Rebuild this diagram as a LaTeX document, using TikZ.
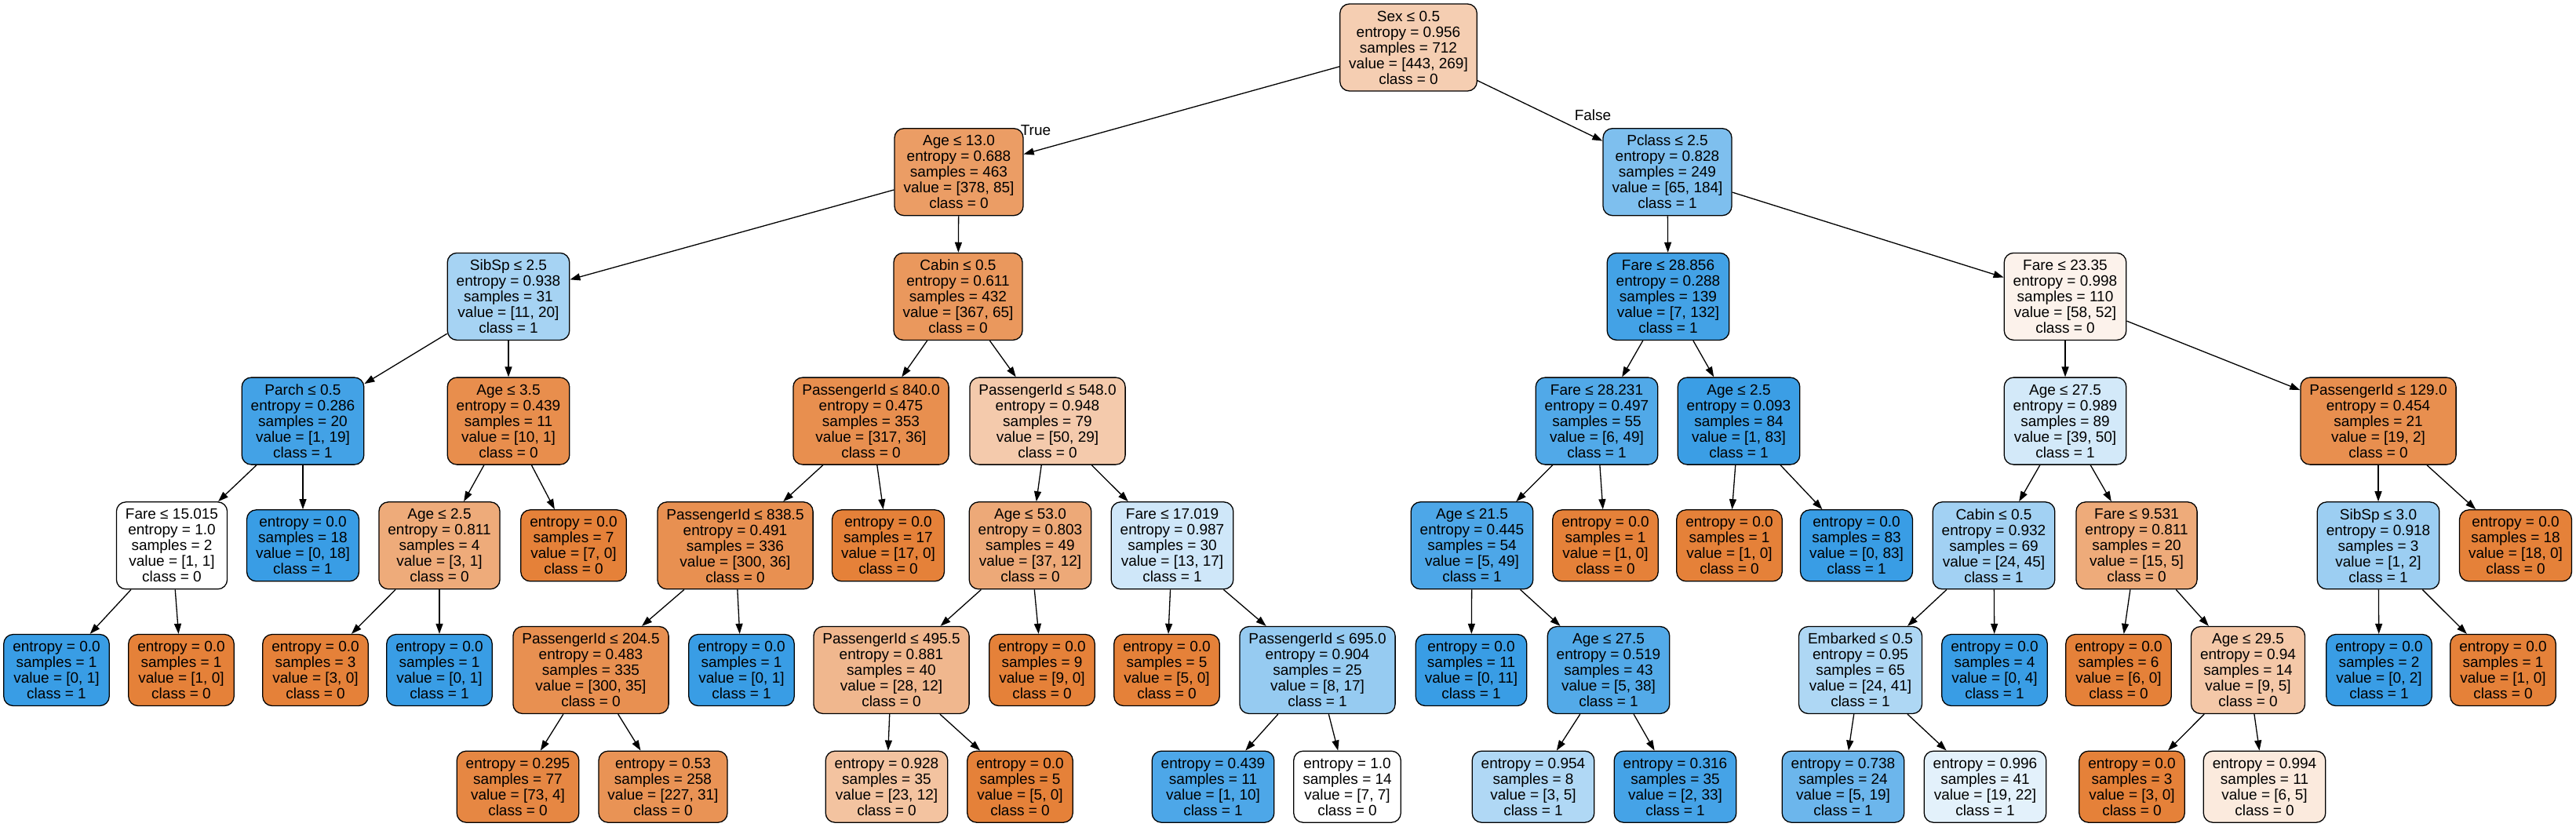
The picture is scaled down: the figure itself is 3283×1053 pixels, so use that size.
\documentclass[tikz,border=0pt]{standalone}
\usepackage{fontspec}
\setmainfont{Liberation Sans}
\usetikzlibrary{arrows.meta}
\definecolor{clsorange}{HTML}{E58139}
\definecolor{clsblue}{HTML}{399DE5}
\tikzstyle{dtnode}=[draw, line width=1.3bp, rounded corners=12bp, align=center, inner xsep=11.5bp, minimum height=111bp, font=\fontsize{19bp}{20bp}\selectfont]
\tikzstyle{dtleaf}=[dtnode, minimum height=91bp]
\tikzstyle{edge}=[line width=1.3bp, -{Triangle[length=13bp, width=9bp]}]
\tikzstyle{edgelabel}=[font=\fontsize{19bp}{20bp}\selectfont]
\begin{document}
\begin{tikzpicture}[x=1bp, y=-1bp]
  \useasboundingbox (0,0) rectangle (3283,1053);

  \node[dtnode, fill=clsorange!39] (N0) at (1795,60.5) {Sex ≤ 0.5\\entropy = 0.956\\samples = 712\\value = [443, 269]\\class = 0};

  \node[dtnode, fill=clsorange!78] (N1) at (1222,219.2) {Age ≤ 13.0\\entropy = 0.688\\samples = 463\\value = [378, 85]\\class = 0};
  \node[dtnode, fill=clsblue!65] (N32) at (2125,219.2) {Pclass ≤ 2.5\\entropy = 0.828\\samples = 249\\value = [65, 184]\\class = 1};

  \node[dtnode, fill=clsblue!45] (N2) at (648,377.9) {SibSp ≤ 2.5\\entropy = 0.938\\samples = 31\\value = [11, 20]\\class = 1};
  \node[dtnode, fill=clsorange!82] (N13) at (1221,377.9) {Cabin ≤ 0.5\\entropy = 0.611\\samples = 432\\value = [367, 65]\\class = 0};
  \node[dtnode, fill=clsblue!95] (N33) at (2126,377.9) {Fare ≤ 28.856\\entropy = 0.288\\samples = 139\\value = [7, 132]\\class = 1};
  \node[dtnode, fill=clsorange!10] (N44) at (2632,377.9) {Fare ≤ 23.35\\entropy = 0.998\\samples = 110\\value = [58, 52]\\class = 0};

  \node[dtnode, fill=clsblue!95] (N3) at (386,536.6) {Parch ≤ 0.5\\entropy = 0.286\\samples = 20\\value = [1, 19]\\class = 1};
  \node[dtnode, fill=clsorange!90] (N8) at (648,536.6) {Age ≤ 3.5\\entropy = 0.439\\samples = 11\\value = [10, 1]\\class = 0};
  \node[dtnode, fill=clsorange!89] (N14) at (1110,536.6) {PassengerId ≤ 840.0\\entropy = 0.475\\samples = 353\\value = [317, 36]\\class = 0};
  \node[dtnode, fill=clsorange!42] (N21) at (1335,536.6) {PassengerId ≤ 548.0\\entropy = 0.948\\samples = 79\\value = [50, 29]\\class = 0};
  \node[dtnode, fill=clsblue!88] (N34) at (2035,536.6) {Fare ≤ 28.231\\entropy = 0.497\\samples = 55\\value = [6, 49]\\class = 1};
  \node[dtnode, fill=clsblue!99] (N41) at (2216,536.6) {Age ≤ 2.5\\entropy = 0.093\\samples = 84\\value = [1, 83]\\class = 1};
  \node[dtnode, fill=clsblue!22] (N45) at (2632,536.6) {Age ≤ 27.5\\entropy = 0.989\\samples = 89\\value = [39, 50]\\class = 1};
  \node[dtnode, fill=clsorange!89] (N56) at (3031,536.6) {PassengerId ≤ 129.0\\entropy = 0.454\\samples = 21\\value = [19, 2]\\class = 0};

  \node[dtnode, fill=white] (N4) at (219,695.3) {Fare ≤ 15.015\\entropy = 1.0\\samples = 2\\value = [1, 1]\\class = 0};
  \node[dtleaf, fill=clsblue] (N7) at (386,695.3) {entropy = 0.0\\samples = 18\\value = [0, 18]\\class = 1};
  \node[dtnode, fill=clsorange!67] (N9) at (560,695.3) {Age ≤ 2.5\\entropy = 0.811\\samples = 4\\value = [3, 1]\\class = 0};
  \node[dtleaf, fill=clsorange] (N12) at (731,695.3) {entropy = 0.0\\samples = 7\\value = [7, 0]\\class = 0};
  \node[dtnode, fill=clsorange!88] (N15) at (937,695.3) {PassengerId ≤ 838.5\\entropy = 0.491\\samples = 336\\value = [300, 36]\\class = 0};
  \node[dtleaf, fill=clsorange] (N20) at (1132,695.3) {entropy = 0.0\\samples = 17\\value = [17, 0]\\class = 0};
  \node[dtnode, fill=clsorange!68] (N22) at (1313,695.3) {Age ≤ 53.0\\entropy = 0.803\\samples = 49\\value = [37, 12]\\class = 0};
  \node[dtnode, fill=clsblue!24] (N27) at (1494,695.3) {Fare ≤ 17.019\\entropy = 0.987\\samples = 30\\value = [13, 17]\\class = 1};
  \node[dtnode, fill=clsblue!90] (N35) at (1876,695.3) {Age ≤ 21.5\\entropy = 0.445\\samples = 54\\value = [5, 49]\\class = 1};
  \node[dtleaf, fill=clsorange] (N40) at (2046,695.3) {entropy = 0.0\\samples = 1\\value = [1, 0]\\class = 0};
  \node[dtleaf, fill=clsorange] (N42) at (2204,695.3) {entropy = 0.0\\samples = 1\\value = [1, 0]\\class = 0};
  \node[dtleaf, fill=clsblue] (N43) at (2366,695.3) {entropy = 0.0\\samples = 83\\value = [0, 83]\\class = 1};
  \node[dtnode, fill=clsblue!47] (N46) at (2541,695.3) {Cabin ≤ 0.5\\entropy = 0.932\\samples = 69\\value = [24, 45]\\class = 1};
  \node[dtnode, fill=clsorange!67] (N51) at (2723,695.3) {Fare ≤ 9.531\\entropy = 0.811\\samples = 20\\value = [15, 5]\\class = 0};
  \node[dtnode, fill=clsblue!50] (N57) at (3031,695.3) {SibSp ≤ 3.0\\entropy = 0.918\\samples = 3\\value = [1, 2]\\class = 1};
  \node[dtleaf, fill=clsorange] (N60) at (3206,695.3) {entropy = 0.0\\samples = 18\\value = [18, 0]\\class = 0};

  \node[dtleaf, fill=clsblue] (N5) at (72,854) {entropy = 0.0\\samples = 1\\value = [0, 1]\\class = 1};
  \node[dtleaf, fill=clsorange] (N6) at (231,854) {entropy = 0.0\\samples = 1\\value = [1, 0]\\class = 0};
  \node[dtleaf, fill=clsorange] (N10) at (402,854) {entropy = 0.0\\samples = 3\\value = [3, 0]\\class = 0};
  \node[dtleaf, fill=clsblue] (N11) at (560,854) {entropy = 0.0\\samples = 1\\value = [0, 1]\\class = 1};
  \node[dtnode, fill=clsorange!88] (N16) at (753,854) {PassengerId ≤ 204.5\\entropy = 0.483\\samples = 335\\value = [300, 35]\\class = 0};
  \node[dtleaf, fill=clsblue] (N19) at (945,854) {entropy = 0.0\\samples = 1\\value = [0, 1]\\class = 1};
  \node[dtnode, fill=clsorange!57] (N23) at (1136,854) {PassengerId ≤ 495.5\\entropy = 0.881\\samples = 40\\value = [28, 12]\\class = 0};
  \node[dtleaf, fill=clsorange] (N26) at (1328,854) {entropy = 0.0\\samples = 9\\value = [9, 0]\\class = 0};
  \node[dtleaf, fill=clsorange] (N28) at (1487,854) {entropy = 0.0\\samples = 5\\value = [5, 0]\\class = 0};
  \node[dtnode, fill=clsblue!53] (N29) at (1679,854) {PassengerId ≤ 695.0\\entropy = 0.904\\samples = 25\\value = [8, 17]\\class = 1};
  \node[dtleaf, fill=clsblue] (N36) at (1875,854) {entropy = 0.0\\samples = 11\\value = [0, 11]\\class = 1};
  \node[dtnode, fill=clsblue!87] (N37) at (2050,854) {Age ≤ 27.5\\entropy = 0.519\\samples = 43\\value = [5, 38]\\class = 1};
  \node[dtnode, fill=clsblue!41] (N47) at (2371,854) {Embarked ≤ 0.5\\entropy = 0.95\\samples = 65\\value = [24, 41]\\class = 1};
  \node[dtleaf, fill=clsblue] (N50) at (2542,854) {entropy = 0.0\\samples = 4\\value = [0, 4]\\class = 1};
  \node[dtleaf, fill=clsorange] (N52) at (2700,854) {entropy = 0.0\\samples = 6\\value = [6, 0]\\class = 0};
  \node[dtnode, fill=clsorange!44] (N53) at (2865,854) {Age ≤ 29.5\\entropy = 0.94\\samples = 14\\value = [9, 5]\\class = 0};
  \node[dtleaf, fill=clsblue] (N58) at (3032,854) {entropy = 0.0\\samples = 2\\value = [0, 2]\\class = 1};
  \node[dtleaf, fill=clsorange] (N59) at (3190,854) {entropy = 0.0\\samples = 1\\value = [1, 0]\\class = 0};

  \node[dtleaf, fill=clsorange!95] (N17) at (660,1002.7) {entropy = 0.295\\samples = 77\\value = [73, 4]\\class = 0};
  \node[dtleaf, fill=clsorange!86] (N18) at (845,1002.7) {entropy = 0.53\\samples = 258\\value = [227, 31]\\class = 0};
  \node[dtleaf, fill=clsorange!48] (N24) at (1130,1002.7) {entropy = 0.928\\samples = 35\\value = [23, 12]\\class = 0};
  \node[dtleaf, fill=clsorange] (N25) at (1300,1002.7) {entropy = 0.0\\samples = 5\\value = [5, 0]\\class = 0};
  \node[dtleaf, fill=clsblue!90] (N30) at (1546,1002.7) {entropy = 0.439\\samples = 11\\value = [1, 10]\\class = 1};
  \node[dtleaf, fill=white] (N31) at (1717,1002.7) {entropy = 1.0\\samples = 14\\value = [7, 7]\\class = 0};
  \node[dtleaf, fill=clsblue!40] (N38) at (1954,1002.7) {entropy = 0.954\\samples = 8\\value = [3, 5]\\class = 1};
  \node[dtleaf, fill=clsblue!94] (N39) at (2135,1002.7) {entropy = 0.316\\samples = 35\\value = [2, 33]\\class = 1};
  \node[dtleaf, fill=clsblue!74] (N48) at (2349,1002.7) {entropy = 0.738\\samples = 24\\value = [5, 19]\\class = 1};
  \node[dtleaf, fill=clsblue!14] (N49) at (2530,1002.7) {entropy = 0.996\\samples = 41\\value = [19, 22]\\class = 1};
  \node[dtleaf, fill=clsorange] (N54) at (2717,1002.7) {entropy = 0.0\\samples = 3\\value = [3, 0]\\class = 0};
  \node[dtleaf, fill=clsorange!17] (N55) at (2886,1002.7) {entropy = 0.994\\samples = 11\\value = [6, 5]\\class = 0};

  \draw[edge] (N0) -- (N1);
  \draw[edge] (N0) -- (N32);
  \draw[edge] (N1) -- (N2);
  \draw[edge] (N1) -- (N13);
  \draw[edge] (N2) -- (N3);
  \draw[edge] (N2) -- (N8);
  \draw[edge] (N3) -- (N4);
  \draw[edge] (N3) -- (N7);
  \draw[edge] (N4) -- (N5);
  \draw[edge] (N4) -- (N6);
  \draw[edge] (N8) -- (N9);
  \draw[edge] (N8) -- (N12);
  \draw[edge] (N9) -- (N10);
  \draw[edge] (N9) -- (N11);
  \draw[edge] (N13) -- (N14);
  \draw[edge] (N13) -- (N21);
  \draw[edge] (N14) -- (N15);
  \draw[edge] (N14) -- (N20);
  \draw[edge] (N15) -- (N16);
  \draw[edge] (N15) -- (N19);
  \draw[edge] (N16) -- (N17);
  \draw[edge] (N16) -- (N18);
  \draw[edge] (N21) -- (N22);
  \draw[edge] (N21) -- (N27);
  \draw[edge] (N22) -- (N23);
  \draw[edge] (N22) -- (N26);
  \draw[edge] (N23) -- (N24);
  \draw[edge] (N23) -- (N25);
  \draw[edge] (N27) -- (N28);
  \draw[edge] (N27) -- (N29);
  \draw[edge] (N29) -- (N30);
  \draw[edge] (N29) -- (N31);
  \draw[edge] (N32) -- (N33);
  \draw[edge] (N32) -- (N44);
  \draw[edge] (N33) -- (N34);
  \draw[edge] (N33) -- (N41);
  \draw[edge] (N34) -- (N35);
  \draw[edge] (N34) -- (N40);
  \draw[edge] (N35) -- (N36);
  \draw[edge] (N35) -- (N37);
  \draw[edge] (N37) -- (N38);
  \draw[edge] (N37) -- (N39);
  \draw[edge] (N41) -- (N42);
  \draw[edge] (N41) -- (N43);
  \draw[edge] (N44) -- (N45);
  \draw[edge] (N44) -- (N56);
  \draw[edge] (N45) -- (N46);
  \draw[edge] (N45) -- (N51);
  \draw[edge] (N46) -- (N47);
  \draw[edge] (N46) -- (N50);
  \draw[edge] (N47) -- (N48);
  \draw[edge] (N47) -- (N49);
  \draw[edge] (N51) -- (N52);
  \draw[edge] (N51) -- (N53);
  \draw[edge] (N53) -- (N54);
  \draw[edge] (N53) -- (N55);
  \draw[edge] (N56) -- (N57);
  \draw[edge] (N56) -- (N60);
  \draw[edge] (N57) -- (N58);
  \draw[edge] (N57) -- (N59);

  \node[edgelabel] (LT) at (1320,166) {True};
  \node[edgelabel] (LF) at (2030,147) {False};
\end{tikzpicture}
\end{document}
